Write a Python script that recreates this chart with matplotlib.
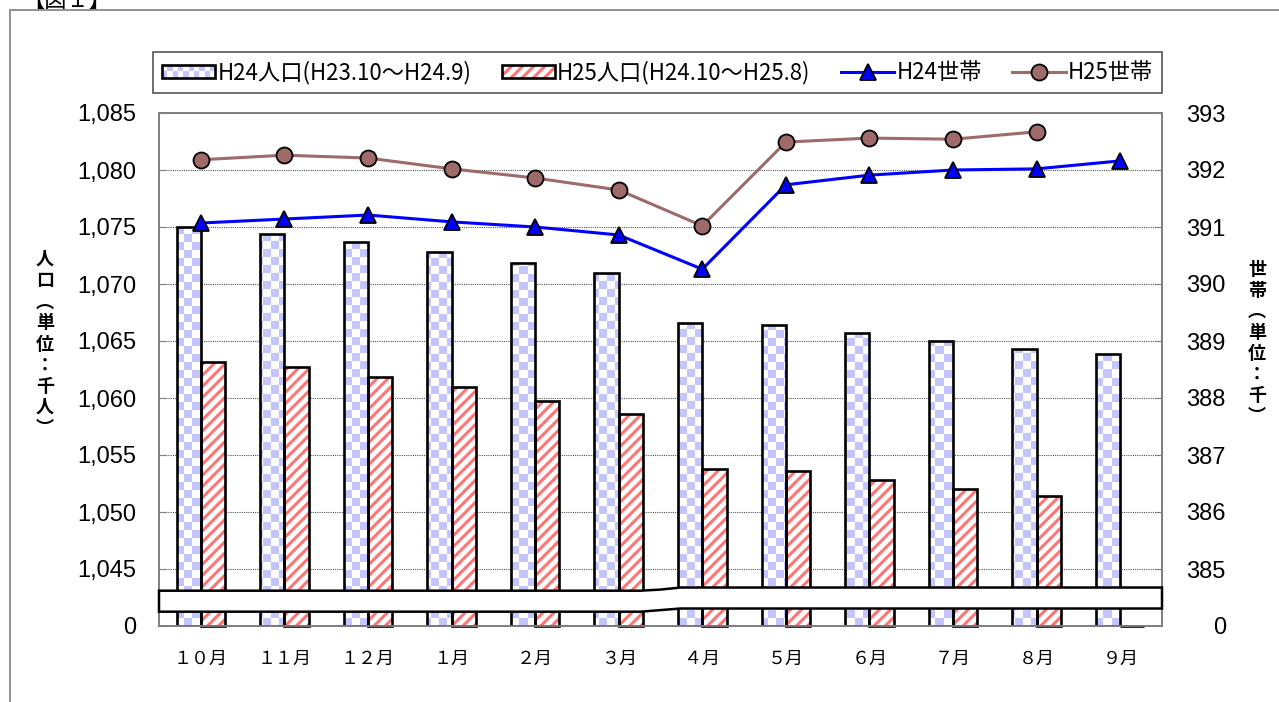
import matplotlib.pyplot as plt
import numpy as np
from matplotlib.patches import Rectangle, Polygon, Patch
from matplotlib.lines import Line2D
from matplotlib.legend_handler import HandlerBase, HandlerTuple

plt.rcParams['font.family'] = ['Noto Sans CJK JP', 'DejaVu Sans']
plt.rcParams['hatch.linewidth'] = 2.2

months = ['１０月', '１１月', '１２月', '１月', '２月', '３月',
          '４月', '５月', '６月', '７月', '８月', '９月']

# population (thousand persons)
pop_h24 = [1075.0, 1074.4, 1073.7, 1072.8, 1071.8, 1071.0,
           1066.6, 1066.4, 1065.7, 1065.0, 1064.3, 1063.9]
pop_h25 = [1063.2, 1062.7, 1061.8, 1061.0, 1059.7, 1058.6,
           1053.8, 1053.6, 1052.8, 1052.0, 1051.4, 0]

# households (thousand)
hh_h24 = [391.07, 391.14, 391.21, 391.09, 391.00, 390.86,
          390.26, 391.74, 391.91, 392.00, 392.02, 392.16]
hh_h25 = [392.18, 392.26, 392.21, 392.02, 391.86, 391.65,
          391.02, 392.49, 392.56, 392.54, 392.67]

left_ticks = [1040, 1045, 1050, 1055, 1060, 1065, 1070, 1075, 1080, 1085]
left_labels = ['0', '1,045', '1,050', '1,055', '1,060', '1,065',
               '1,070', '1,075', '1,080', '1,085']
right_ticks = [384, 385, 386, 387, 388, 389, 390, 391, 392, 393]
right_labels = ['0', '385', '386', '387', '388', '389', '390', '391', '392', '393']

labels = ['H24人口(H23.10～H24.9)', 'H25人口(H24.10～H25.8)', 'H24世帯', 'H25世帯']

checker_blue = (0.77, 0.77, 1.0)
red = '#FF7474'
brown = '#9E6A6A'
gray = '#808080'

W, H = 1279, 702
fig = plt.figure(figsize=(W / 100, H / 100), dpi=100)
ax = fig.add_axes([159 / W, 1 - 626 / H, 1003 / W, 513 / H])

x = np.arange(len(months))
bw = 0.29
base = left_ticks[0]
ax.set_xlim(-0.5, len(months) - 0.5)
ax.set_ylim(left_ticks[0], left_ticks[-1])

h24 = np.clip(np.array(pop_h24) - base, 0, None)
h25 = np.clip(np.array(pop_h25) - base, 0, None)

# checkered H24 bars
ny, nx = 513, 1003
ii, jj = np.mgrid[0:ny, 0:nx]
mask = ((ii // 8 + jj // 8) % 2).astype(bool)
img = np.ones((ny, nx, 3))
img[mask] = checker_blue
bars24 = ax.bar(x - bw / 2, h24, bw, bottom=base, facecolor='none',
                edgecolor='black', linewidth=1.9, zorder=3)
for b in bars24:
    im = ax.imshow(img, extent=(-0.5, len(months) - 0.5, left_ticks[0], left_ticks[-1]),
                   aspect='auto', interpolation='nearest', origin='lower', zorder=2)
    im.set_clip_path(b)

# hatched H25 bars
ax.bar(x + bw / 2, h25, bw, bottom=base, facecolor='white', edgecolor=red,
       hatch='///', linewidth=0, zorder=2)
ax.bar(x + bw / 2, h25, bw, bottom=base, facecolor='none', edgecolor='black',
       linewidth=1.9, zorder=3, clip_on=False)

ax.set_axisbelow(True)
ax.yaxis.grid(True, linestyle=(0, (1, 1)), color='#555555', linewidth=0.8)
ax.set_yticks(left_ticks)
ax.set_yticklabels(left_labels, fontfamily='Liberation Sans', fontsize=17)
ax.set_xticks(x)
ax.set_xticklabels(months, fontsize=13)
ax.tick_params(axis='y', direction='in', length=5, color=gray, pad=16.5)
ax.tick_params(axis='x', length=0, pad=17)
for s in ax.spines.values():
    s.set_color(gray)
    s.set_linewidth(1.3)

ax2 = ax.twinx()
ax2.set_ylim(right_ticks[0], right_ticks[-1])
ax2.plot(x, hh_h24, color='#0000FF', linewidth=2.2, marker='^', markersize=12,
         markerfacecolor='#0000FF', markeredgecolor='black', markeredgewidth=1.3, zorder=5)
ax2.plot(x[:len(hh_h25)], hh_h25, color=brown, linewidth=2.2, marker='o', markersize=11.5,
         markerfacecolor=brown, markeredgecolor='black', markeredgewidth=1.3, zorder=5)
ax2.set_yticks(right_ticks)
ax2.set_yticklabels(right_labels, fontfamily='Liberation Sans', fontsize=17)
ax2.tick_params(axis='y', direction='in', length=5, color=gray, pad=46)
for lbl in ax2.get_yticklabels():
    lbl.set_ha('right')
for s in ax2.spines.values():
    s.set_color(gray)
    s.set_linewidth(1.3)

# axis break band
top = [(0, 0.0688), (0.48, 0.0688), (0.50, 0.071), (0.52, 0.075), (1.0, 0.075)]
bot = [(1.0, 0.0341), (0.52, 0.0341), (0.50, 0.031), (0.48, 0.0279), (0, 0.0279)]
band = Polygon(top + bot, closed=True, transform=ax2.transAxes, facecolor='white',
               edgecolor='black', linewidth=1.8, zorder=10, clip_on=False)
ax2.add_patch(band)

# axis titles
fig.text(45 / W, 1 - 344 / H, '\n'.join('人口︵単位：千人︶'), ha='center', va='center',
         fontsize=13, fontweight='bold', linespacing=1.14)
fig.text(1257 / W, 1 - 343 / H, '\n'.join('世帯︵単位：千︶'), ha='center', va='center',
         fontsize=13, fontweight='bold', linespacing=1.14)


class CheckerHandler(HandlerBase):
    def create_artists(self, legend, orig_handle, xdescent, ydescent, width, height,
                       fontsize, trans):
        arts = []
        n = 10
        cw = width / n
        for k in range(n):
            for r in range(2):
                if (k + r) % 2 == 0:
                    arts.append(Rectangle((-xdescent + k * cw, -ydescent + r * height / 2),
                                          cw, height / 2, facecolor=checker_blue,
                                          edgecolor='none', transform=trans))
        arts.append(Rectangle((-xdescent, -ydescent), width, height, facecolor='none',
                              edgecolor='black', linewidth=1.9, transform=trans))
        return arts


h_checker = Patch(facecolor='none', edgecolor='black')
h_red = (Patch(facecolor='white', edgecolor=red, hatch='///', linewidth=0),
         Patch(facecolor='none', edgecolor='black', linewidth=1.9))
h_l24 = Line2D([], [], color='#0000FF', linewidth=2.2, marker='^', markersize=12,
               markerfacecolor='#0000FF', markeredgecolor='black', markeredgewidth=1.3)
h_l25 = Line2D([], [], color=brown, linewidth=2.2, marker='o', markersize=11.5,
               markerfacecolor=brown, markeredgecolor='black', markeredgewidth=1.3)
leg = fig.legend([h_checker, h_red, h_l24, h_l25], labels, loc='center',
                 bbox_to_anchor=(153 / W, 1 - 94 / H, 1009 / W, 43 / H), mode='expand',
                 ncol=4, fontsize=16, handlelength=2.4, handleheight=0.5,
                 handletextpad=0.1, borderpad=0.4, borderaxespad=0, fancybox=False,
                 framealpha=1, edgecolor='#555555',
                 handler_map={h_checker: CheckerHandler(), tuple: HandlerTuple(ndivide=1)})
leg.get_frame().set_linewidth(1.2)

# outer frame and title
fig.add_artist(Rectangle((10 / W, -0.1), 1.2, 1 - 10 / H + 0.1, transform=fig.transFigure,
                         facecolor='none', edgecolor=gray, linewidth=1.2))
fig.text(22 / W, 1 - 7 / H, '【図１】', ha='left', va='baseline', fontsize=16)

fig.savefig('out.png', dpi=100)
